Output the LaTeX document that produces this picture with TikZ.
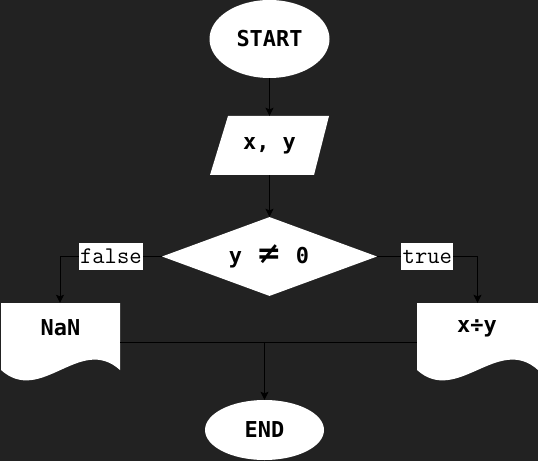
\documentclass[tikz,border=0pt]{standalone}
\usepackage{fontspec}
\usetikzlibrary{shapes.geometric,arrows.meta}
\newfontfamily\boldmono{DejaVu Sans Mono}[UprightFont=* Bold]
\newfontfamily\neqfont{DejaVu Sans}[UprightFont=* Bold]
\definecolor{bg}{HTML}{222222}
\tikzset{
  x=1bp, y=-1bp,
  txt/.style={font=\boldmono\fontsize{22}{22}\selectfont, text=black, inner sep=0pt},
  lbl/.style={font=\ttfamily\fontsize{24}{24}\selectfont, text=black, fill=white, inner xsep=1.5bp, inner ysep=0pt, minimum height=27bp},
  conn/.style={draw=black, line width=1bp},
  arr/.style={conn, -{Stealth[length=8bp,width=8bp,inset=1.5bp]}},
  term/.style={ellipse, fill=white, inner sep=0pt},
}
\begin{document}
\begin{tikzpicture}
\fill[bg] (0,0) rectangle (538,461);
\useasboundingbox (0,0) rectangle (538,461);
% start
\node[term, txt, minimum width=120bp, minimum height=78bp] (start) at (269.5,39) {START};
% input
\fill[white] (228,116) -- (329,116) -- (314,175) -- (210,175) -- cycle;
\node[txt, minimum width=104bp, minimum height=59bp] (io) at (269.5,145.5) {x, y};
% decision
\node[diamond, fill=white, inner sep=0pt, minimum width=215bp, minimum height=79bp] (dec) at (269.5,256.5) {};
\node[txt] (dectxt) at (269,256) {\makebox[33.5bp]{y}\makebox[33.5bp]{\neqfont\fontsize{30}{30}\selectfont ≠}\makebox[33.5bp]{0}};
% documents
\fill[white] (1,303) -- (120,303) -- (120,370) .. controls (80,334) and (41,406) .. (1,370) -- cycle;
\node[minimum width=119bp, minimum height=67bp, inner sep=0pt] (nan) at (60.5,336.5) {};
\node[txt] (nantxt) at (60.5,328) {NaN};
\fill[white] (417,303) -- (538,303) -- (538,370) .. controls (498,334) and (457,406) .. (417,370) -- cycle;
\node[minimum width=121bp, minimum height=67bp, inner sep=0pt] (res) at (477.5,336.5) {};
\node[txt] (restxt) at (477,328) {x÷y};
% end
\node[term, txt, minimum width=119bp, minimum height=60bp] (end) at (264.5,430) {END};
% connectors
\draw[arr] (start) -- (io);
\draw[arr] (io) -- (dec);
\draw[arr] (dec.west) -| node[lbl, pos=0.25] (lf) {false} ([xshift=-0.5bp]nan.north);
\draw[arr] (dec.east) -| node[lbl, pos=0.25] (lt) {true} (res.north);
\coordinate (nanR) at (120,342);
\coordinate (resL) at (417,342);
\coordinate (merge) at (264.5,342);
\draw[conn] (nanR) -- (resL);
\draw[arr] (merge) -- (end.north);
\end{tikzpicture}
\end{document}
